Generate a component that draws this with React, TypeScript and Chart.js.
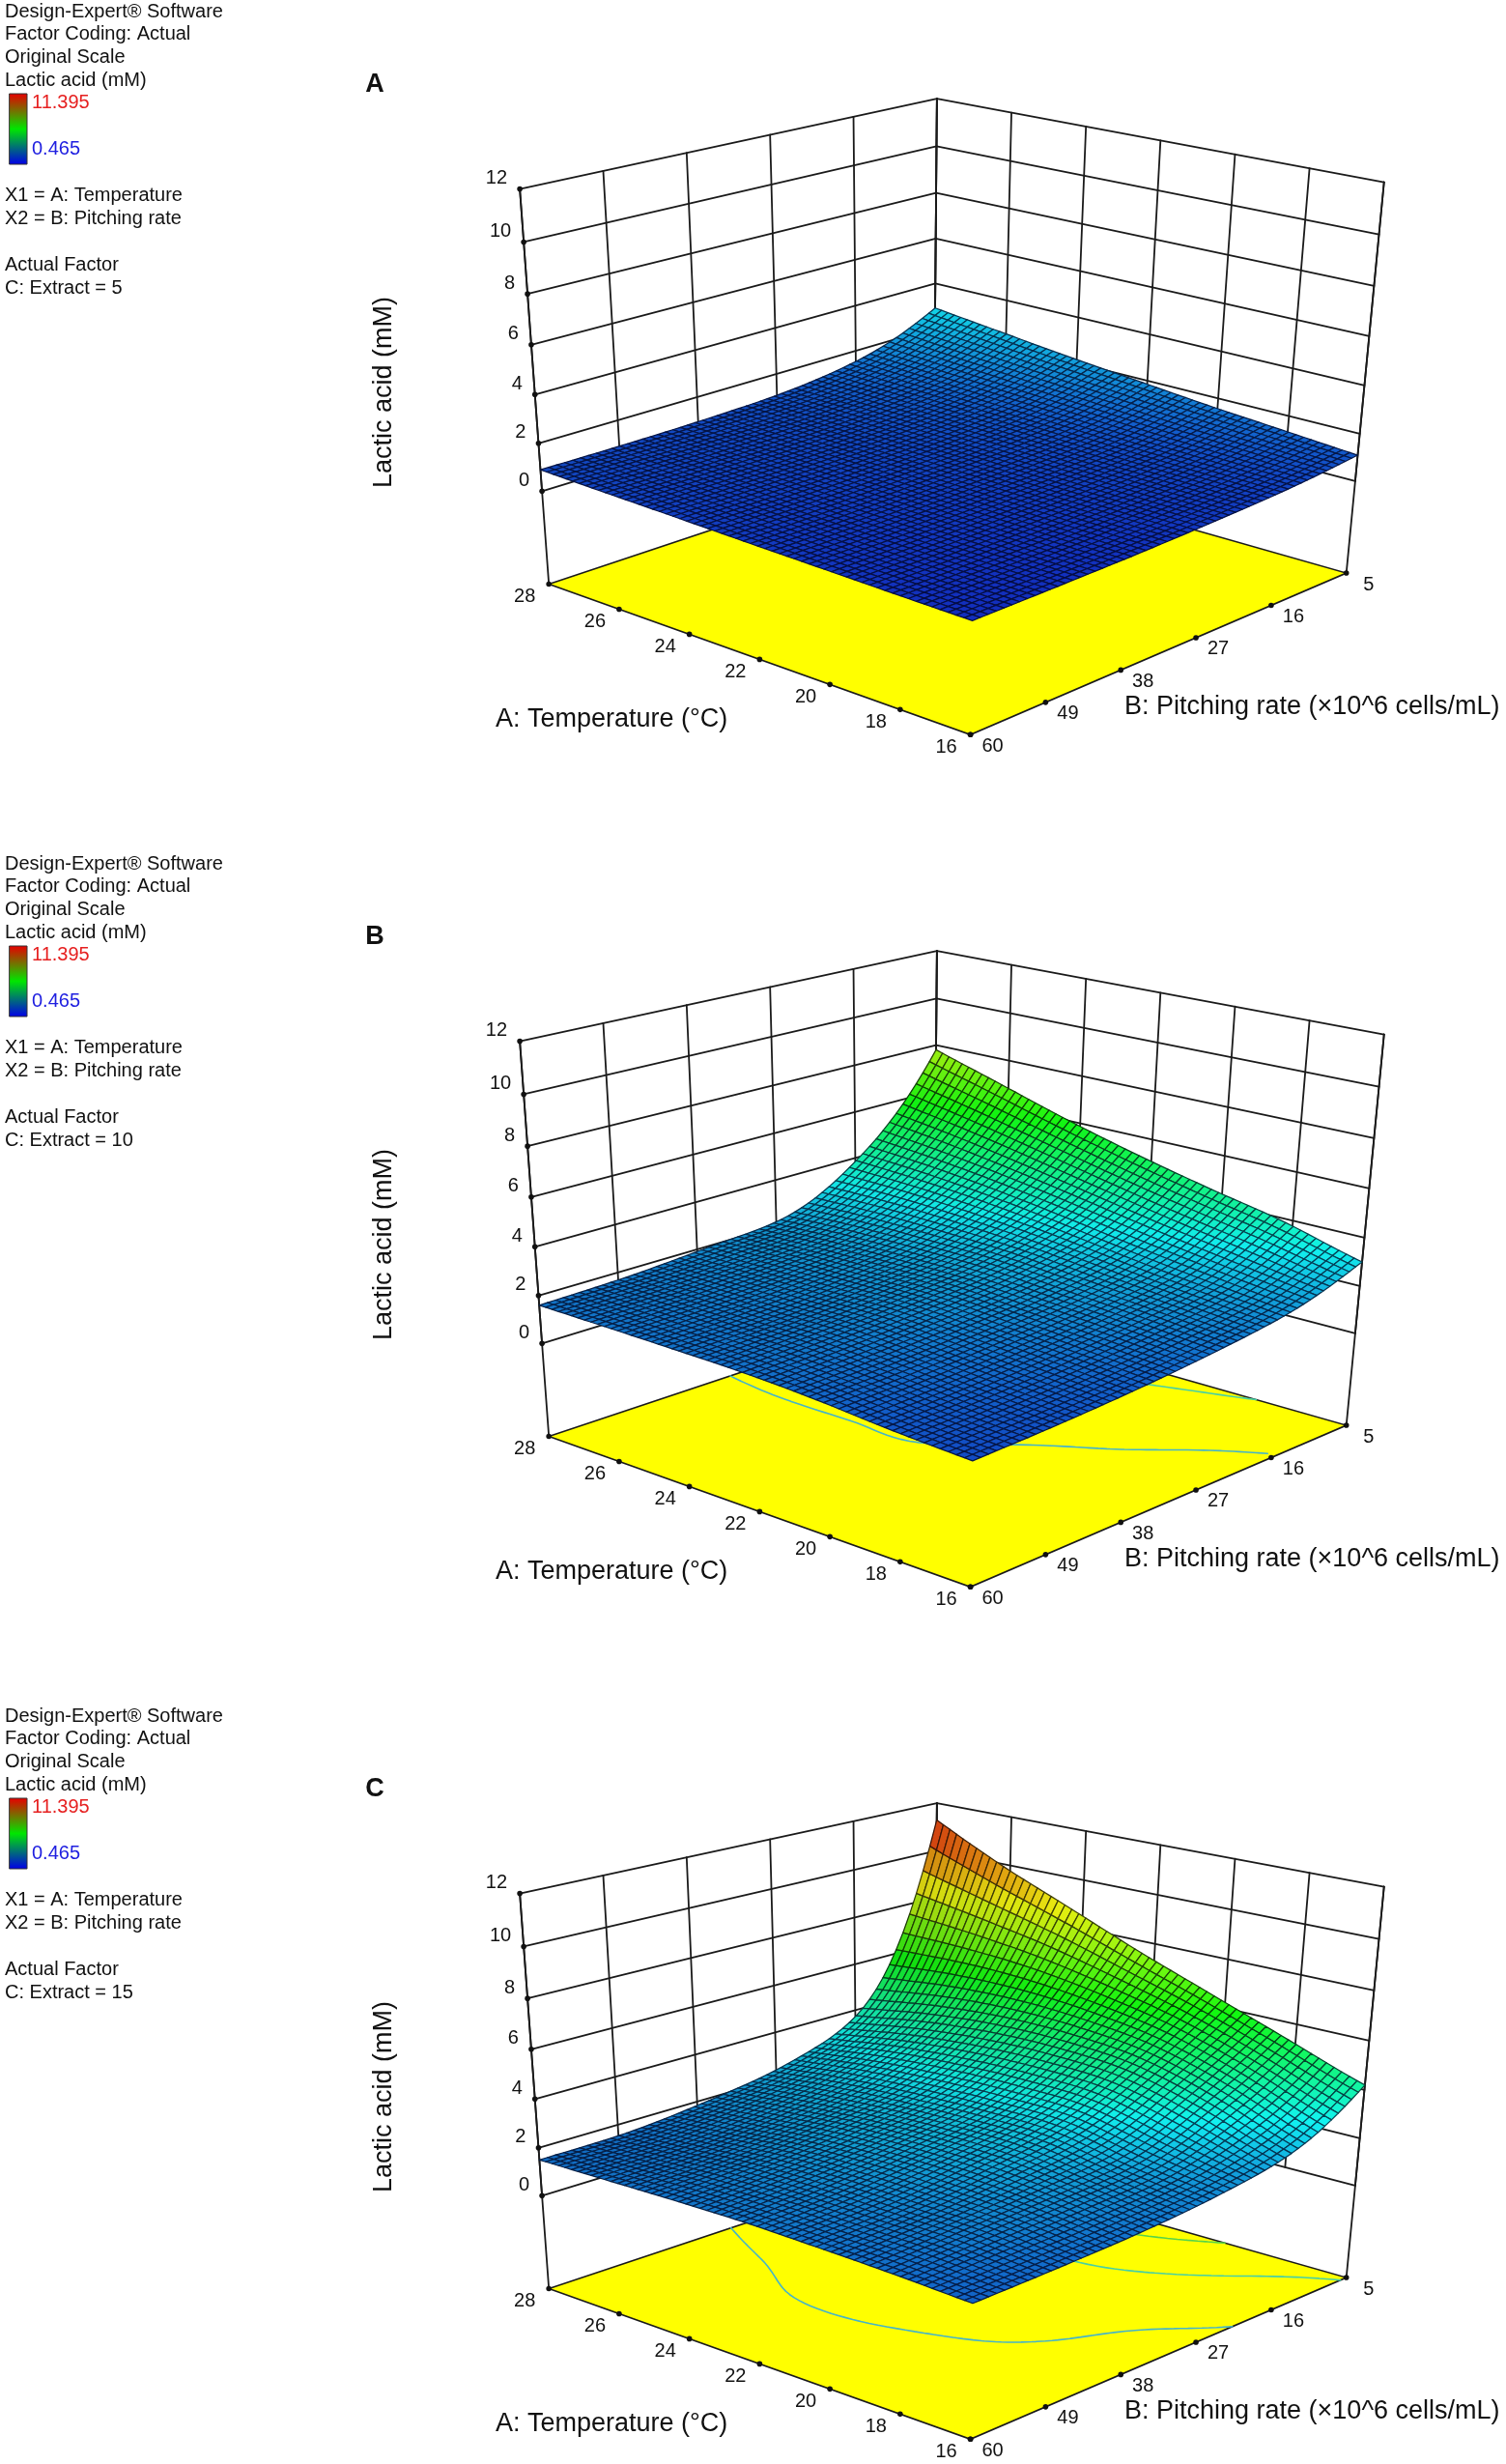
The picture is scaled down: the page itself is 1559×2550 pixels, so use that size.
import React, { useEffect, useRef } from "react";
import { Chart, registerables } from "chart.js";

Chart.register(...registerables);

// ---------------- data ----------------
const TEMPERATURE = [16, 18, 20, 22, 24, 26, 28]; // A: Temperature (°C)
const PITCHING_RATE = [5, 16, 27, 38, 49, 60]; // B: Pitching rate (x10^6 cells/mL)
const LACTIC_TICKS = [0, 2, 4, 6, 8, 10, 12];
const EXTRACT_LEVELS = [5, 10, 15];
const PANEL_LETTERS = ["A", "B", "C"];
const CONTOUR_LEVELS = [2, 4, 6, 8, 10];
const COLOR_MIN = 0.465;
const COLOR_MAX = 11.395;
const FLOOR_Z = -4;

// rows: TEMPERATURE, columns: PITCHING_RATE  (lactic acid, mM)
const LACTIC_EXTRACT_5 = [
  [1.1, 0.8, 0.65, 0.55, 0.5, 0.47],
  [1.35, 0.9, 0.72, 0.62, 0.56, 0.53],
  [1.6, 1.0, 0.8, 0.7, 0.63, 0.6],
  [1.9, 1.15, 0.9, 0.78, 0.7, 0.67],
  [2.2, 1.3, 0.98, 0.85, 0.78, 0.75],
  [2.55, 1.45, 1.05, 0.9, 0.84, 0.82],
  [2.9, 1.6, 1.1, 0.95, 0.9, 0.9],
];
const LACTIC_EXTRACT_10 = [
  [3.0, 2.0, 1.55, 1.25, 1.05, 0.93],
  [3.85, 2.35, 1.85, 1.5, 1.25, 1.1],
  [4.5, 2.75, 2.1, 1.75, 1.5, 1.35],
  [5.2, 3.2, 2.35, 1.97, 1.7, 1.5],
  [6.0, 3.6, 2.4, 1.97, 1.7, 1.55],
  [6.9, 3.9, 2.4, 1.97, 1.72, 1.58],
  [7.8, 4.1, 2.3, 1.95, 1.7, 1.6],
];
const LACTIC_EXTRACT_15 = [
  [4.2, 2.45, 1.85, 1.55, 1.4, 1.3],
  [5.3, 3.55, 2.3, 1.95, 1.7, 1.45],
  [6.4, 4.4, 2.9, 2.25, 1.8, 1.55],
  [7.5, 4.7, 3.0, 2.35, 1.9, 1.62],
  [8.7, 4.7, 2.95, 2.3, 1.88, 1.6],
  [9.9, 4.45, 2.8, 2.1, 1.7, 1.55],
  [11.3, 4.0, 2.5, 1.9, 1.55, 1.5],
];
const PANEL_DATA = [LACTIC_EXTRACT_5, LACTIC_EXTRACT_10, LACTIC_EXTRACT_15];

// ---------------- layout ----------------
const W = 1559;
const PANEL_TOP = [0, 882, 1764];
const PANEL_HEIGHT = [882, 882, 786];
// view calibration: [T, P, z] -> panel pixel
const VIEW_ANCHORS: [number, number, number, number, number][] = [
  [28, 60, -4, 568, 603],
  [16, 60, -4, 1005, 762],
  [16, 5, -4, 1394, 592],
  [28, 5, -4, 967, 474],
  [28, 60, 12, 538, 197],
  [28, 5, 12, 970, 101],
  [16, 5, 12, 1433, 189],
  [28, 60, 0, 561, 507],
  [16, 5, 0, 1402, 497],
];
const FONT = '"Liberation Sans", Arial, sans-serif';

const nT = (T: number) => (T - 22) / 6;
const nP = (P: number) => (P - 32.5) / 27.5;
const nZ = (z: number) => (z - 4) / 8;

function solveLinear(A: number[][], b: number[]): number[] {
  const n = b.length;
  const M = A.map((row, i) => [...row, b[i]]);
  for (let c = 0; c < n; c++) {
    let piv = c;
    for (let r = c + 1; r < n; r++) if (Math.abs(M[r][c]) > Math.abs(M[piv][c])) piv = r;
    const tmp = M[c];
    M[c] = M[piv];
    M[piv] = tmp;
    for (let r = 0; r < n; r++) {
      if (r === c) continue;
      const f = M[r][c] / M[c][c];
      for (let k = c; k <= n; k++) M[r][k] -= f * M[c][k];
    }
  }
  return M.map((row, i) => row[n] / row[i]);
}

const U0 = 980, V0 = 430, S0 = 400;
function buildCamera() {
  const N = 11;
  const AtA = Array.from({ length: N }, () => new Array(N).fill(0));
  const Atb = new Array(N).fill(0);
  const add = (row: number[], r: number) => {
    for (let i = 0; i < N; i++) {
      Atb[i] += row[i] * r;
      for (let j = 0; j < N; j++) AtA[i][j] += row[i] * row[j];
    }
  };
  for (const [T, P, z, u, v] of VIEW_ANCHORS) {
    const x = nT(T), y = nP(P), w = nZ(z);
    const U = (u - U0) / S0, V = (v - V0) / S0;
    add([x, y, w, 1, 0, 0, 0, 0, -U * x, -U * y, -U * w], U);
    add([0, 0, 0, 0, x, y, w, 1, -V * x, -V * y, -V * w], V);
  }
  const m = solveLinear(AtA, Atb);
  return (T: number, P: number, z: number) => {
    const x = nT(T), y = nP(P), w = nZ(z);
    const d = m[8] * x + m[9] * y + m[10] * w + 1;
    return {
      u: U0 + (S0 * (m[0] * x + m[1] * y + m[2] * w + m[3])) / d,
      v: V0 + (S0 * (m[4] * x + m[5] * y + m[6] * w + m[7])) / d,
      d,
    };
  };
}
const CAMERA = buildCamera();

function cr(p0: number, p1: number, p2: number, p3: number, t: number) {
  const t2 = t * t, t3 = t2 * t;
  return 0.5 * (2 * p1 + (-p0 + p2) * t + (2 * p0 - 5 * p1 + 4 * p2 - p3) * t2 + (-p0 + 3 * p1 - 3 * p2 + p3) * t3);
}

function makeSampler(grid: number[][]) {
  const L = grid.map((r) => r.map((v) => Math.log(v)));
  const nI = L.length, nJ = L[0].length;
  const g = (i: number, j: number): number => {
    if (i < 0) return 2 * g(0, j) - g(1, j);
    if (i >= nI) return 2 * g(nI - 1, j) - g(nI - 2, j);
    if (j < 0) return 2 * g(i, 0) - g(i, 1);
    if (j >= nJ) return 2 * g(i, nJ - 1) - g(i, nJ - 2);
    return L[i][j];
  };
  return (T: number, P: number) => {
    const fi = (T - TEMPERATURE[0]) / (TEMPERATURE[1] - TEMPERATURE[0]);
    const fj = (P - PITCHING_RATE[0]) / (PITCHING_RATE[1] - PITCHING_RATE[0]);
    const i = Math.max(0, Math.min(Math.floor(fi), nI - 2));
    const j = Math.max(0, Math.min(Math.floor(fj), nJ - 2));
    const ti = fi - i, tj = fj - j;
    const col = [-1, 0, 1, 2].map((di) => cr(g(i + di, j - 1), g(i + di, j), g(i + di, j + 1), g(i + di, j + 2), tj));
    return Math.exp(cr(col[0], col[1], col[2], col[3], ti));
  };
}

const STOPS: [number, number, number, number][] = [
  [0, 0, 30, 225],
  [0.25, 0, 250, 255],
  [0.5, 0, 255, 0],
  [0.75, 255, 255, 0],
  [1, 255, 0, 0],
];
function rainbow(t: number): [number, number, number] {
  t = Math.max(0, Math.min(1, t));
  for (let k = 1; k < STOPS.length; k++) {
    if (t <= STOPS[k][0]) {
      const a = STOPS[k - 1], b = STOPS[k];
      const f = (t - a[0]) / (b[0] - a[0]);
      return [a[1] + (b[1] - a[1]) * f, a[2] + (b[2] - a[2]) * f, a[3] + (b[3] - a[3]) * f];
    }
  }
  return [255, 0, 0];
}
const CONTOUR_COLORS = ["#46b4c8", "#48d0a4", "#58d448", "#b8d820", "#e08a10"];

const LIGHT = (() => {
  const v = [-0.45, 0.45, 0.77];
  const n = Math.hypot(v[0], v[1], v[2]);
  return v.map((c) => c / n);
})();

type Pt = { x: number; y: number; d: number };
const lerp = (a: Pt, b: Pt, f: number): Pt => ({ x: a.x + (b.x - a.x) * f, y: a.y + (b.y - a.y) * f, d: a.d + (b.d - a.d) * f });

function makePlugin(idx: number) {
  const grid = PANEL_DATA[idx];
  const sample = makeSampler(grid);
  return {
    id: "rsm3d",
    afterDatasetsDraw(chart: any) {
      const ctx: CanvasRenderingContext2D = chart.ctx;
      const sx = chart.scales.x, sy = chart.scales.y;
      const proj = (T: number, P: number, z: number): Pt => {
        const p = CAMERA(T, P, z);
        return { x: sx.getPixelForValue(p.u), y: sy.getPixelForValue(p.v), d: p.d };
      };
      const line = (a: Pt, b: Pt) => {
        ctx.beginPath();
        ctx.moveTo(a.x, a.y);
        ctx.lineTo(b.x, b.y);
        ctx.stroke();
      };
      const Tmin = TEMPERATURE[0], Tmax = TEMPERATURE[TEMPERATURE.length - 1];
      const Pmin = PITCHING_RATE[0], Pmax = PITCHING_RATE[PITCHING_RATE.length - 1];
      const zBot = LACTIC_TICKS[0], zTop = LACTIC_TICKS[LACTIC_TICKS.length - 1];
      const fP = (P: number) => (Pmax - P) / (Pmax - Pmin); // 0 at P=60, 1 at P=5
      const fT = (T: number) => (Tmax - T) / (Tmax - Tmin); // 0 at T=28, 1 at T=16
      ctx.save();
      ctx.lineCap = "round";

      // ---- walls (grid interpolated along wall edges) ----
      ctx.strokeStyle = "#1a1a1a";
      ctx.lineWidth = 1.8;
      for (const z of LACTIC_TICKS) {
        line(proj(Tmax, Pmax, z), proj(Tmax, Pmin, z));
        line(proj(Tmax, Pmin, z), proj(Tmin, Pmin, z));
      }
      const lwB = proj(Tmax, Pmax, zBot), lwT = proj(Tmax, Pmax, zTop);
      const bkB = proj(Tmax, Pmin, zBot), bkT = proj(Tmax, Pmin, zTop);
      const rwB = proj(Tmin, Pmin, zBot), rwT = proj(Tmin, Pmin, zTop);
      for (const P of PITCHING_RATE) line(lerp(lwB, bkB, fP(P)), lerp(lwT, bkT, fP(P)));
      for (const T of TEMPERATURE) line(lerp(bkB, rwB, fT(T)), lerp(bkT, rwT, fT(T)));
      for (const [T, P] of [[Tmax, Pmax], [Tmax, Pmin], [Tmin, Pmin]]) line(proj(T, P, FLOOR_Z), proj(T, P, zTop));

      // ---- floor ----
      const flL = proj(Tmax, Pmax, FLOOR_Z), flF = proj(Tmin, Pmax, FLOOR_Z), flR = proj(Tmin, Pmin, FLOOR_Z), flB = proj(Tmax, Pmin, FLOOR_Z);
      ctx.beginPath();
      [flL, flF, flR, flB].forEach((p, k) => (k ? ctx.lineTo(p.x, p.y) : ctx.moveTo(p.x, p.y)));
      ctx.closePath();
      ctx.fillStyle = "#ffff00";
      ctx.fill();
      ctx.strokeStyle = "#1a1a1a";
      ctx.lineWidth = 1.6;
      ctx.stroke();

      // ---- sampled surface nodes ----
      const NT = 60, NP = 55;
      const Tn: number[] = [], Pn: number[] = [];
      for (let a = 0; a <= NT; a++) Tn.push(Tmin + ((Tmax - Tmin) * a) / NT);
      for (let b = 0; b <= NP; b++) Pn.push(Pmin + ((Pmax - Pmin) * b) / NP);
      const Z: number[][] = Tn.map((T) => Pn.map((P) => sample(T, P)));

      // ---- contours on floor ----
      ctx.lineWidth = 1.6;
      CONTOUR_LEVELS.forEach((lev, li) => {
        ctx.strokeStyle = CONTOUR_COLORS[li];
        ctx.beginPath();
        for (let a = 0; a < NT; a++) {
          for (let b = 0; b < NP; b++) {
            const c = [
              [Tn[a], Pn[b], Z[a][b]],
              [Tn[a + 1], Pn[b], Z[a + 1][b]],
              [Tn[a + 1], Pn[b + 1], Z[a + 1][b + 1]],
              [Tn[a], Pn[b + 1], Z[a][b + 1]],
            ];
            const pts: [number, number][] = [];
            for (let e = 0; e < 4; e++) {
              const p = c[e], q = c[(e + 1) % 4];
              if ((p[2] - lev) * (q[2] - lev) < 0) {
                const f = (lev - p[2]) / (q[2] - p[2]);
                pts.push([p[0] + (q[0] - p[0]) * f, p[1] + (q[1] - p[1]) * f]);
              }
            }
            for (let k = 0; k + 1 < pts.length; k += 2) {
              const A = proj(pts[k][0], pts[k][1], FLOOR_Z);
              const B = proj(pts[k + 1][0], pts[k + 1][1], FLOOR_Z);
              ctx.moveTo(A.x, A.y);
              ctx.lineTo(B.x, B.y);
            }
          }
        }
        ctx.stroke();
      });

      // ---- surface ----
      const node = Tn.map((T, a) => Pn.map((P, b) => proj(T, P, Z[a][b])));
      const dBack = CAMERA(Tmax, Pmin, 0).d, dFront = CAMERA(Tmin, Pmax, 0).d;
      const sgn = dBack > dFront ? 1 : -1;
      const world = (a: number, b: number) => [nT(Tn[a]), nP(Pn[b]), nZ(Z[a][b]) * 0.74];
      const cells: { d: number; a: number; b: number }[] = [];
      for (let a = 0; a < NT; a++)
        for (let b = 0; b < NP; b++)
          cells.push({ a, b, d: (node[a][b].d + node[a + 1][b].d + node[a + 1][b + 1].d + node[a][b + 1].d) / 4 });
      cells.sort((p, q) => sgn * (q.d - p.d));
      ctx.lineWidth = 1.25;
      ctx.lineJoin = "round";
      for (const { a, b } of cells) {
        const p0 = node[a][b], p1 = node[a + 1][b], p2 = node[a + 1][b + 1], p3 = node[a][b + 1];
        const zc = (Z[a][b] + Z[a + 1][b] + Z[a + 1][b + 1] + Z[a][b + 1]) / 4;
        const w0 = world(a, b), w1 = world(a + 1, b), w3 = world(a, b + 1);
        const e1 = [w1[0] - w0[0], w1[1] - w0[1], w1[2] - w0[2]];
        const e2 = [w3[0] - w0[0], w3[1] - w0[1], w3[2] - w0[2]];
        let n = [e1[1] * e2[2] - e1[2] * e2[1], e1[2] * e2[0] - e1[0] * e2[2], e1[0] * e2[1] - e1[1] * e2[0]];
        if (n[2] < 0) n = n.map((c) => -c);
        const nl = Math.hypot(n[0], n[1], n[2]) || 1;
        const dot = (n[0] * LIGHT[0] + n[1] * LIGHT[1] + n[2] * LIGHT[2]) / nl;
        const I = 0.3 + 0.6 * Math.max(0, dot);
        const col = rainbow((zc - COLOR_MIN) / (COLOR_MAX - COLOR_MIN));
        const r = Math.min(255, Math.round(col[0] * I + 18));
        const g = Math.min(255, Math.round(col[1] * I + 22));
        const bl = Math.min(255, Math.round(col[2] * I + 16));
        ctx.beginPath();
        ctx.moveTo(p0.x, p0.y);
        ctx.lineTo(p1.x, p1.y);
        ctx.lineTo(p2.x, p2.y);
        ctx.lineTo(p3.x, p3.y);
        ctx.closePath();
        ctx.fillStyle = `rgb(${r},${g},${bl})`;
        ctx.fill();
        ctx.strokeStyle = `rgb(${Math.round(r * 0.28)},${Math.round(g * 0.28)},${Math.round(bl * 0.36)})`;
        ctx.stroke();
      }

      // ---- ticks and labels ----
      const dotAt = (p: Pt) => {
        ctx.beginPath();
        ctx.arc(p.x, p.y, 2.8, 0, Math.PI * 2);
        ctx.fill();
      };
      ctx.fillStyle = "#111";
      ctx.font = `20px ${FONT}`;
      ctx.textBaseline = "middle";
      for (const z of LACTIC_TICKS) {
        const p = proj(Tmax, Pmax, z);
        dotAt(p);
        ctx.textAlign = "right";
        ctx.fillText(String(z), p.x - 13, p.y - 11);
      }
      ctx.textAlign = "center";
      for (const T of TEMPERATURE) {
        const p = lerp(flL, flF, fT(T));
        dotAt(p);
        ctx.fillText(String(T), p.x - 25, p.y + 13.5);
      }
      for (const P of PITCHING_RATE) {
        const p = lerp(flF, flR, fP(P));
        dotAt(p);
        ctx.fillText(String(P), p.x + 23, p.y + 12);
      }

      // axis titles
      ctx.font = `27px ${FONT}`;
      ctx.fillStyle = "#111";
      ctx.textAlign = "left";
      ctx.fillText("A: Temperature (\u00B0C)", 513, 745);
      ctx.fillText("B: Pitching rate (\u00D710^6 cells/mL)", 1164, 732);
      ctx.save();
      ctx.translate(398, 406);
      ctx.rotate(-Math.PI / 2);
      ctx.textAlign = "center";
      ctx.fillText("Lactic acid (mM)", 0, 0);
      ctx.restore();

      // panel letter
      ctx.font = `bold 27px ${FONT}`;
      ctx.textAlign = "center";
      ctx.fillText(PANEL_LETTERS[idx], 388, 88);

      // side legend
      ctx.font = `20px ${FONT}`;
      ctx.textAlign = "left";
      ctx.fillStyle = "#111";
      const lines: [string, number][] = [
        ["Design-Expert\u00AE Software", 12],
        ["Factor Coding: Actual", 35.5],
        ["Original Scale", 59],
        ["Lactic acid (mM)", 83],
        ["X1 = A: Temperature", 202],
        ["X2 = B: Pitching rate", 226],
        ["Actual Factor", 274],
        [`C: Extract = ${EXTRACT_LEVELS[idx]}`, 298],
      ];
      for (const [s, y] of lines) ctx.fillText(s, 5, y);
      const gr = ctx.createLinearGradient(0, 97, 0, 170);
      gr.addColorStop(0, "#e60000");
      gr.addColorStop(0.5, "#00e600");
      gr.addColorStop(1, "#0000e6");
      ctx.fillStyle = gr;
      ctx.fillRect(10, 97, 18, 73);
      ctx.strokeStyle = "#333";
      ctx.lineWidth = 1;
      ctx.strokeRect(10, 97, 18, 73);
      ctx.fillStyle = "#e62020";
      ctx.fillText(COLOR_MAX.toFixed(3), 33, 106);
      ctx.fillStyle = "#2020e0";
      ctx.fillText(COLOR_MIN.toFixed(3), 33, 154);
      ctx.restore();
    },
  };
}

function Panel({ idx }: { idx: number }) {
  const ref = useRef<HTMLCanvasElement | null>(null);
  useEffect(() => {
    if (!ref.current) return;
    const grid = PANEL_DATA[idx];
    const nodes: { x: number; y: number }[] = [];
    TEMPERATURE.forEach((T, i) =>
      PITCHING_RATE.forEach((P, j) => {
        const p = CAMERA(T, P, grid[i][j]);
        nodes.push({ x: p.u, y: p.v });
      })
    );
    const chart = new Chart(ref.current, {
      type: "scatter",
      data: { datasets: [{ data: nodes, pointRadius: 0, pointHoverRadius: 0, showLine: false }] },
      options: {
        animation: false,
        responsive: false,
        maintainAspectRatio: false,
        events: [],
        layout: { padding: 0 },
        scales: {
          x: { type: "linear", min: 0, max: W, display: false },
          y: { type: "linear", min: 0, max: PANEL_HEIGHT[idx], reverse: true, display: false },
        },
        plugins: { legend: { display: false }, tooltip: { enabled: false }, title: { display: false } },
      },
      plugins: [makePlugin(idx)],
    } as any);
    return () => chart.destroy();
  }, [idx]);
  return (
    <canvas
      ref={ref}
      width={W}
      height={PANEL_HEIGHT[idx]}
      style={{ position: "absolute", left: 0, top: PANEL_TOP[idx], width: W, height: PANEL_HEIGHT[idx] }}
    />
  );
}

export default function App() {
  return (
    <div style={{ position: "absolute", left: 0, top: 0, width: W, height: 2550, overflow: "hidden", background: "#fff" }}>
      {[0, 1, 2].map((i) => (
        <Panel key={i} idx={i} />
      ))}
    </div>
  );
}
